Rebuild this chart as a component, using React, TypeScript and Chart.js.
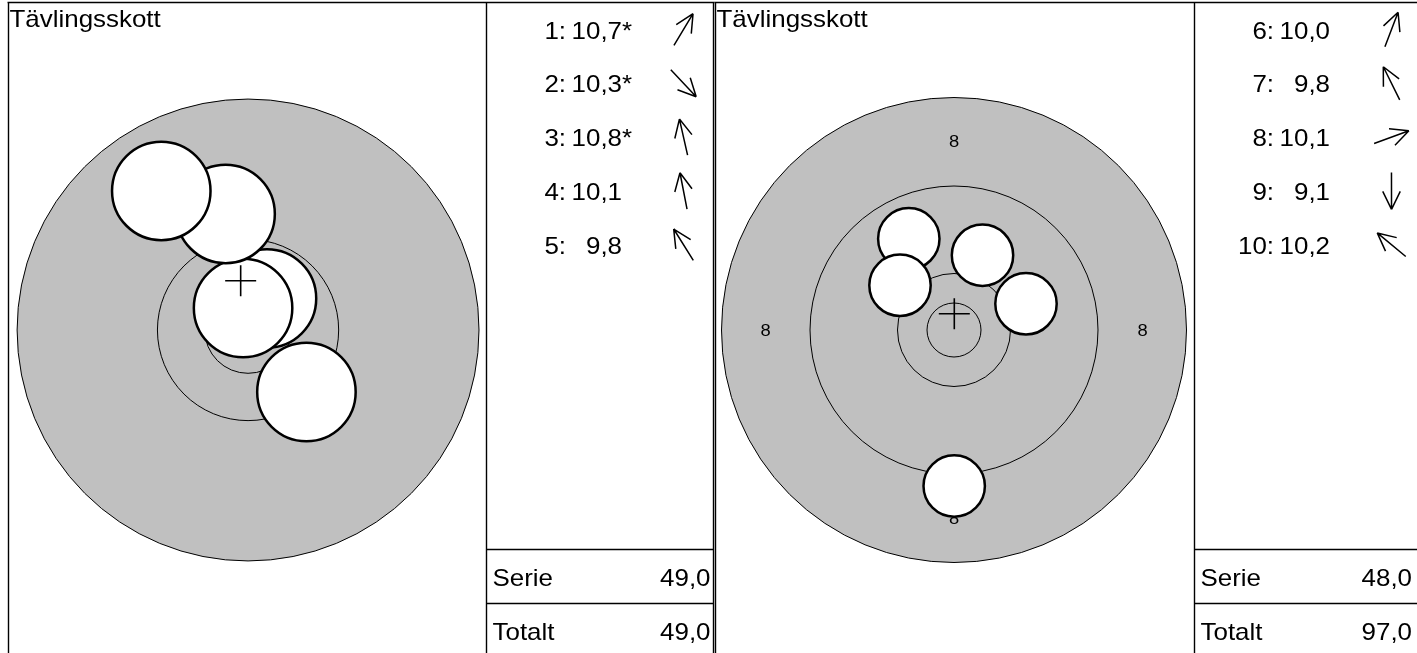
import { useEffect, useRef } from "react";
import { Chart, registerables } from "chart.js";

Chart.register(...registerables);

// ---------- data ----------
const TITLE = "Tävlingsskott";
const SERIE_LABEL = "Serie";
const TOTAL_LABEL = "Totalt";

// target ring radii (target units)
const ringRadii = [2.7, 5.65, 14.4, 23.25];
const shotRadius = 3.07;
const ringLabelText = "8";
const ringLabelRadius = 18.85;

// series 1
const shotNumbers1 = [1, 2, 3, 4, 5];
const shotX1 = [1.18, 3.64, -0.31, -1.4, -5.41];
const shotY1 = [1.96, -3.86, 1.37, 7.22, 8.65];
const shotScores1 = [10.7, 10.3, 10.8, 10.1, 9.8];
const innerTen1 = [true, true, true, false, false];
const serie1 = 49.0;
const total1 = 49.0;
const viewRadius1 = 14.4;

// series 2
const shotNumbers2 = [6, 7, 8, 9, 10];
const shotX2 = [2.85, -4.52, 7.2, 0.02, -5.4];
const shotY2 = [7.48, 9.12, 2.62, -15.6, 4.47];
const shotScores2 = [10.0, 9.8, 10.1, 9.1, 10.2];
const innerTen2 = [false, false, false, false, false];
const serie2 = 48.0;
const total2 = 97.0;
const viewRadius2 = 23.25;

// ---------- layout ----------
const W = 1417;
const H = 653;
const FONT = '"Liberation Sans", Arial, Helvetica, sans-serif';
const TEXT_STRETCH = 1.08;

type Layout = {
  left: number; divider: number; right: number; valueRight: number;
  cx: number; cy: number; half: number;
};
const layout1: Layout = { left: 8.5, divider: 486.5, right: 713.5, valueRight: 710.5, cx: 247.5, cy: 330, half: 231.5 };
const layout2: Layout = { left: 715.5, divider: 1194.5, right: 1421, valueRight: 1412, cx: 954, cy: 330, half: 232.5 };

type Series = {
  nums: number[]; xs: number[]; ys: number[]; scores: number[]; stars: boolean[];
  serie: number; total: number; view: number;
};

const fmt = (v: number) => v.toFixed(1).replace(".", ",");

function txt(ctx: CanvasRenderingContext2D, s: string, x: number, y: number, align: CanvasTextAlign) {
  ctx.save();
  ctx.translate(x, y);
  ctx.scale(TEXT_STRETCH, 1);
  ctx.textAlign = align;
  ctx.fillText(s, 0, 0);
  ctx.restore();
}

function makeChart(canvas: HTMLCanvasElement, d: Series, L: Layout, id: string) {
  const V = d.view;
  const mx = d.xs.reduce((a, b) => a + b, 0) / d.xs.length;
  const my = d.ys.reduce((a, b) => a + b, 0) / d.ys.length;

  const plugin = {
    id: "target" + id,
    beforeDatasetsDraw(chart: any) {
      const ctx: CanvasRenderingContext2D = chart.ctx;
      const sx = chart.scales.x;
      const sy = chart.scales.y;
      const cx = sx.getPixelForValue(0);
      const cy = sy.getPixelForValue(0);
      const px = (r: number) => Math.abs(sx.getPixelForValue(r) - cx);
      ctx.save();
      ctx.beginPath();
      ctx.arc(cx, cy, px(V), 0, Math.PI * 2);
      ctx.fillStyle = "#c0c0c0";
      ctx.fill();
      ctx.lineWidth = 1;
      ctx.strokeStyle = "#000";
      ctx.stroke();
      for (const r of ringRadii) {
        if (r < V - 1e-6) {
          ctx.beginPath();
          ctx.arc(cx, cy, px(r), 0, Math.PI * 2);
          ctx.stroke();
        }
      }
      if (ringLabelRadius < V) {
        ctx.fillStyle = "#000";
        ctx.font = `17px ${FONT}`;
        ctx.textBaseline = "middle";
        const pts = [[ringLabelRadius, 0], [-ringLabelRadius, 0], [0, ringLabelRadius], [0, -ringLabelRadius]];
        for (const [x, y] of pts) {
          txt(ctx, ringLabelText, sx.getPixelForValue(x), sy.getPixelForValue(y) + 1, "center");
        }
      }
      ctx.restore();
    },
    afterDraw(chart: any) {
      const ctx: CanvasRenderingContext2D = chart.ctx;
      ctx.save();
      ctx.strokeStyle = "#000";
      ctx.lineWidth = 1.4;
      ctx.beginPath();
      ctx.moveTo(L.left - 1, 2.5);
      ctx.lineTo(Math.min(L.right + 1, W), 2.5);
      for (const x of [L.left, L.divider, L.right]) {
        ctx.moveTo(x, 2);
        ctx.lineTo(x, H);
      }
      for (const y of [549.5, 603.5]) {
        ctx.moveTo(L.divider, y);
        ctx.lineTo(L.right, y);
      }
      ctx.stroke();

      ctx.fillStyle = "#000";
      ctx.font = `24px ${FONT}`;
      ctx.textBaseline = "alphabetic";
      txt(ctx, TITLE, L.left + 1, 27, "left");

      const col = L.divider;
      for (let i = 0; i < d.nums.length; i++) {
        const base = 38.5 + 53.8 * i;
        txt(ctx, d.nums[i] + ":", col + 79.5, base, "right");
        txt(ctx, fmt(d.scores[i]), col + 135.5, base, "right");
        if (d.stars[i]) txt(ctx, "*", col + 135.5, base, "left");
        const ax = col + 197;
        const ay = base - 9;
        const len = Math.hypot(d.xs[i], d.ys[i]) || 1;
        const ux = d.xs[i] / len;
        const uy = -d.ys[i] / len;
        const hl = 18.5;
        const tx = ax + ux * hl, ty = ay + uy * hl;
        const bx = ax - ux * hl, by = ay - uy * hl;
        ctx.beginPath();
        ctx.lineWidth = 1.5;
        ctx.moveTo(bx, by);
        ctx.lineTo(tx, ty);
        const ang = Math.atan2(uy, ux);
        const barb = 20;
        const spread = (26 * Math.PI) / 180;
        for (const s of [-spread, spread]) {
          ctx.moveTo(tx, ty);
          ctx.lineTo(tx - Math.cos(ang + s) * barb, ty - Math.sin(ang + s) * barb);
        }
        ctx.stroke();
      }

      txt(ctx, SERIE_LABEL, col + 6, 585.5, "left");
      txt(ctx, TOTAL_LABEL, col + 6, 640, "left");
      txt(ctx, fmt(d.serie), L.valueRight, 585.5, "right");
      txt(ctx, fmt(d.total), L.valueRight, 640, "right");
      ctx.restore();
    },
  };

  return new Chart(canvas, {
    type: "scatter",
    data: {
      datasets: [
        {
          data: [{ x: mx, y: my }],
          pointStyle: "cross",
          pointRadius: 15.5,
          pointBorderWidth: 1.6,
          pointBorderColor: "#000",
          pointBackgroundColor: "rgba(0,0,0,0)",
          clip: false,
        } as any,
        {
          data: d.xs.map((x, i) => ({ x, y: d.ys[i] })),
          pointRadius: (c: any) => {
            const s = c.chart.scales.x;
            return Math.abs(s.getPixelForValue(shotRadius) - s.getPixelForValue(0));
          },
          pointBorderWidth: 2.5,
          pointBorderColor: "#000",
          pointBackgroundColor: "#fff",
          clip: false,
        } as any,
      ],
    },
    options: {
      responsive: false,
      animation: false,
      devicePixelRatio: 1,
      events: [],
      layout: {
        padding: {
          left: L.cx - L.half,
          right: W - (L.cx + L.half),
          top: L.cy - L.half,
          bottom: H - (L.cy + L.half),
        },
      },
      scales: {
        x: { type: "linear", display: false, min: -V, max: V },
        y: { type: "linear", display: false, min: -V, max: V },
      },
      plugins: {
        legend: { display: false },
        tooltip: { enabled: false },
        title: { display: false },
      },
    },
    plugins: [plugin],
  } as any);
}

export default function App() {
  const ref1 = useRef<HTMLCanvasElement>(null);
  const ref2 = useRef<HTMLCanvasElement>(null);
  useEffect(() => {
    const c1 = makeChart(
      ref1.current!,
      { nums: shotNumbers1, xs: shotX1, ys: shotY1, scores: shotScores1, stars: innerTen1, serie: serie1, total: total1, view: viewRadius1 },
      layout1,
      "1"
    );
    const c2 = makeChart(
      ref2.current!,
      { nums: shotNumbers2, xs: shotX2, ys: shotY2, scores: shotScores2, stars: innerTen2, serie: serie2, total: total2, view: viewRadius2 },
      layout2,
      "2"
    );
    return () => {
      c1.destroy();
      c2.destroy();
    };
  }, []);
  const cs: any = { position: "absolute", left: 0, top: 0, width: W, height: H, display: "block" };
  return (
    <div style={{ position: "fixed", left: 0, top: 0, width: W, height: H, background: "#fff", overflow: "hidden" }}>
      <canvas ref={ref1} width={W} height={H} style={cs} />
      <canvas ref={ref2} width={W} height={H} style={cs} />
    </div>
  );
}
